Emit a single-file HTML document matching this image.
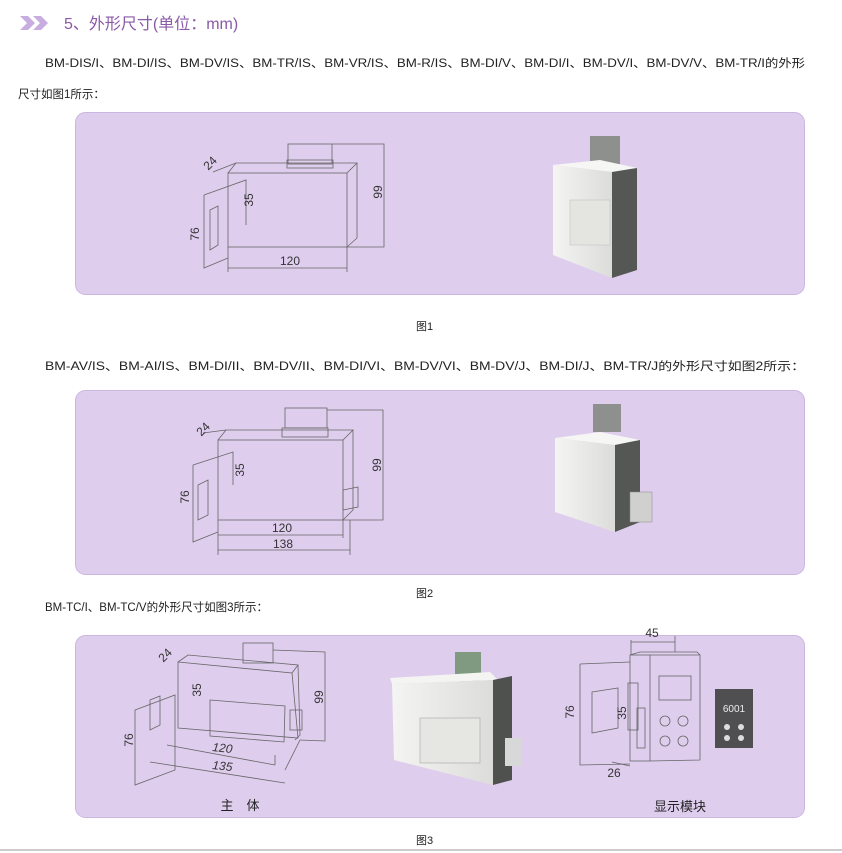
<!DOCTYPE html>
<html><head><meta charset="utf-8"><style>
html,body{margin:0;padding:0;background:#fff;}
svg{display:block;}
text{font-family:"Liberation Sans","Noto Sans CJK SC",sans-serif;}
</style></head><body>
<svg width="842" height="853" viewBox="0 0 842 853" xmlns="http://www.w3.org/2000/svg">
<defs>
<linearGradient id="dev" x1="0" x2="1"><stop offset="0" stop-color="#f4f4f2"/><stop offset="1" stop-color="#dcdcda"/></linearGradient>
</defs>
<!-- header -->
<path d="M20 16 L28 16 L35 23 L28 30 L20 30 L27 23Z M33 16 L41 16 L48 23 L41 30 L33 30 L40 23Z" fill="#c8aee0"/>
<text x="64" y="29" font-size="16" fill="#8a5aa8">5、外形尺寸(单位：mm)</text>
<text x="45" y="67" font-size="11.5" fill="#222" textLength="760" lengthAdjust="spacingAndGlyphs">BM-DIS/I、BM-DI/IS、BM-DV/IS、BM-TR/IS、BM-VR/IS、BM-R/IS、BM-DI/V、BM-DI/I、BM-DV/I、BM-DV/V、BM-TR/I的外形</text>
<text x="18" y="98" font-size="11.5" fill="#222">尺寸如图1所示：</text>

<!-- panels -->
<rect x="75.5" y="112.5" width="729" height="182" rx="10" fill="#dfcdee" stroke="#cbb6df"/>
<rect x="75.5" y="390.5" width="729" height="184" rx="10" fill="#dfcdee" stroke="#cbb6df"/>
<rect x="75.5" y="635.5" width="729" height="182" rx="10" fill="#dfcdee" stroke="#cbb6df"/>

<text x="416" y="330" font-size="11" fill="#222">图1</text>
<text x="45" y="370" font-size="11.5" fill="#222" textLength="760" lengthAdjust="spacingAndGlyphs">BM-AV/IS、BM-AI/IS、BM-DI/II、BM-DV/II、BM-DI/VI、BM-DV/VI、BM-DV/J、BM-DI/J、BM-TR/J的外形尺寸如图2所示：</text>
<text x="416" y="597" font-size="11" fill="#222">图2</text>
<text x="45" y="611" font-size="11.5" fill="#222">BM-TC/I、BM-TC/V的外形尺寸如图3所示：</text>
<text x="416" y="844" font-size="11" fill="#222">图3</text>
<line x1="0" y1="850" x2="842" y2="850" stroke="#999" stroke-width="1"/>

<!-- Drawing 1 -->
<g fill="none" stroke="#666" stroke-width="0.8">
<rect x="228" y="173" width="119" height="74"/>
<path d="M228 173 L236 163 L357 163 L347 173 M357 163 L357 238 L347 247"/>
<rect x="288" y="144" width="44" height="20"/><rect x="287" y="160" width="46" height="8"/>
<path d="M332 144 L384 144 L384 247 L347 247 M384 247 L357 247"/>
<path d="M204 195 L246 180 L246 225 M204 195 L204 268 L228 258 M210 210 L218 206 L218 245 L210 250Z"/>
<path d="M228 247 L228 272 M347 247 L347 272 M228 268 L347 268 M213 172 L236 163"/>
</g>
<text x="290" y="265" font-size="12" fill="#333" text-anchor="middle">120</text>
<text transform="translate(382,192) rotate(-90)" font-size="12" fill="#333" text-anchor="middle">99</text>
<text transform="translate(253,200) rotate(-90)" font-size="12" fill="#333" text-anchor="middle">35</text>
<text transform="translate(199,234) rotate(-90)" font-size="12" fill="#333" text-anchor="middle">76</text>
<text transform="translate(213,166) rotate(-45)" font-size="12" fill="#333" text-anchor="middle">24</text>

<!-- Photo 1 -->
<rect x="590" y="136" width="30" height="28" fill="#8e908e"/>
<path d="M553 165 L600 160 L637 168 L612 172Z" fill="#f6f6f4"/>
<path d="M553 165 L612 172 L612 278 L553 255Z" fill="url(#dev)"/>
<path d="M612 172 L637 168 L637 270 L612 278Z" fill="#555755"/>
<rect x="570" y="200" width="40" height="45" fill="#e4e4e0" stroke="#bbb" stroke-width="0.5"/>

<!-- Drawing 2 -->
<g fill="none" stroke="#666" stroke-width="0.8">
<rect x="218" y="440" width="125" height="80"/>
<path d="M218 440 L226 430 L353 430 L343 440 M353 430 L353 510 L343 520"/>
<rect x="285" y="408" width="42" height="20"/><rect x="282" y="428" width="46" height="9"/>
<path d="M327 410 L383 410 L383 520 L343 520"/>
<path d="M343 490 L358 487 L358 507 L343 510Z"/>
<path d="M193 465 L233 452 L233 485 M193 465 L193 542 L218 532 M198 485 L208 480 L208 515 L198 520Z"/>
<path d="M218 520 L218 555 M343 520 L343 538 M350 520 L350 555 M218 535 L343 535 M218 550 L350 550 M203 433 L226 430"/>
</g>
<text x="282" y="532" font-size="12" fill="#333" text-anchor="middle">120</text>
<text x="283" y="548" font-size="12" fill="#333" text-anchor="middle">138</text>
<text transform="translate(381,465) rotate(-90)" font-size="12" fill="#333" text-anchor="middle">99</text>
<text transform="translate(244,470) rotate(-90)" font-size="12" fill="#333" text-anchor="middle">35</text>
<text transform="translate(189,497) rotate(-90)" font-size="12" fill="#333" text-anchor="middle">76</text>
<text transform="translate(206,432) rotate(-45)" font-size="12" fill="#333" text-anchor="middle">24</text>

<!-- Photo 2 -->
<rect x="593" y="404" width="28" height="28" fill="#8e908e"/>
<path d="M555 438 L600 432 L640 440 L615 445Z" fill="#f6f6f4"/>
<path d="M555 438 L615 445 L615 532 L555 512Z" fill="url(#dev)"/>
<path d="M615 445 L640 440 L640 522 L615 532Z" fill="#555755"/>
<rect x="630" y="492" width="22" height="30" fill="#d0d0ce" stroke="#888" stroke-width="0.5"/>

<!-- Drawing 3 main body -->
<g fill="none" stroke="#666" stroke-width="0.8">
<path d="M178 662 L292 673 L298 738 L178 728Z"/>
<path d="M178 662 L188 655 L298 665 L292 673 M298 665 L300 735 L295 740"/>
<rect x="243" y="643" width="30" height="20"/>
<path d="M210 700 L285 706 L284 742 L210 736Z"/>
<rect x="290" y="710" width="12" height="20"/>
<path d="M273 650 L325 652 L325 741 L300 740"/>
<path d="M135 710 L175 695 L175 770 L135 785Z M150 700 L160 696 L160 725 L150 730Z"/>
<path d="M167 745 L275 765 M150 762 L285 783 M275 755 L275 765 M285 770 L300 740"/>
</g>
<text transform="translate(222,752) rotate(6)" font-size="12" fill="#333" text-anchor="middle" font-style="italic">120</text>
<text transform="translate(222,770) rotate(6)" font-size="12" fill="#333" text-anchor="middle" font-style="italic">135</text>
<text transform="translate(323,697) rotate(-90)" font-size="12" fill="#333" text-anchor="middle">99</text>
<text transform="translate(201,690) rotate(-90)" font-size="12" fill="#333" text-anchor="middle">35</text>
<text transform="translate(133,740) rotate(-90)" font-size="12" fill="#333" text-anchor="middle">76</text>
<text transform="translate(168,658) rotate(-45)" font-size="12" fill="#333" text-anchor="middle">24</text>
<text x="240" y="810" font-size="13" fill="#222" text-anchor="middle">主　体</text>

<!-- Photo 3 -->
<rect x="455" y="652" width="26" height="30" fill="#7f9a80"/>
<path d="M390 678 L490 672 L498 680 L392 684Z" fill="#f4f4f2"/>
<path d="M392 684 L493 680 L493 785 L394 760Z" fill="url(#dev)"/>
<path d="M493 680 L512 676 L512 780 L493 785Z" fill="#4f514f"/>
<rect x="420" y="718" width="60" height="45" fill="#e6e6e2" stroke="#999" stroke-width="0.5"/>
<rect x="505" y="738" width="16" height="28" fill="#d8d8d8"/>

<!-- Display module -->
<g fill="none" stroke="#666" stroke-width="0.8">
<rect x="630" y="655" width="20" height="106"/>
<path d="M630 655 L640 652 L697 652 L700 655 M650 655 L700 655 L700 760 L650 761"/>
<rect x="628" y="683" width="10" height="47"/><rect x="637" y="708" width="8" height="40"/>
<rect x="659" y="676" width="32" height="24"/>
<circle cx="665" cy="721" r="5"/><circle cx="683" cy="721" r="5"/><circle cx="665" cy="741" r="5"/><circle cx="683" cy="741" r="5"/>
<path d="M580 664 L630 662 M580 664 L580 765 L630 764 M592 692 L618 688 L618 728 L592 733Z M631 640 L631 655 M675 636 L675 652 M631 642 L675 642 M612 762 L630 766"/>
</g>
<text x="652" y="637" font-size="12" fill="#333" text-anchor="middle">45</text>
<text transform="translate(574,712) rotate(-90)" font-size="12" fill="#333" text-anchor="middle">76</text>
<text transform="translate(626,713) rotate(-90)" font-size="12" fill="#333" text-anchor="middle">35</text>
<text x="614" y="777" font-size="12" fill="#333" text-anchor="middle">26</text>
<rect x="715" y="689" width="38" height="59" fill="#4f4f52"/>
<text x="734" y="712" font-size="10" fill="#eee" text-anchor="middle" font-family="Liberation Mono">6001</text>
<circle cx="727" cy="727" r="3" fill="#ddd"/><circle cx="741" cy="727" r="3" fill="#ddd"/>
<circle cx="727" cy="738" r="3" fill="#ddd"/><circle cx="741" cy="738" r="3" fill="#ddd"/>
<text x="680" y="811" font-size="13" fill="#222" text-anchor="middle">显示模块</text>
</svg>
</body></html>
